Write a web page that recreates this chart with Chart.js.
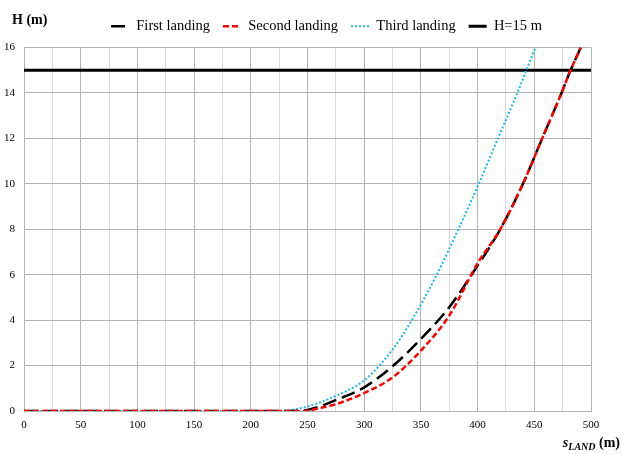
<!DOCTYPE html>
<html><head><meta charset="utf-8">
<script src="https://cdn.jsdelivr.net/npm/chart.js@4/dist/chart.umd.min.js"></script>
<style>html,body{margin:0;padding:0;background:#fff}canvas{display:block}</style>
</head><body>
<canvas id="c" width="622" height="454"></canvas>
<script>
const firstX  = [0, 240, 250, 262, 275, 300, 325, 350, 375, 400, 420, 440, 457, 474, 482, 491];
const firstH  = [0, 0, 0.05, 0.22, 0.48, 1.04, 1.97, 3.17, 4.57, 6.4, 8, 10, 12, 14, 15, 16];
const secondX = [0, 247, 260, 275, 300, 325, 350, 375, 400, 420, 440, 457, 474, 482, 491];
const secondH = [0, 0, 0.12, 0.3, 0.79, 1.48, 2.66, 4.2, 6.5, 8, 10, 12, 14, 15, 16];
const thirdX  = [0, 225, 250, 275, 300, 325, 342, 364, 383, 401, 418, 435, 451];
const thirdH  = [0, 0, 0.2, 0.67, 1.35, 2.7, 4, 6, 8, 10, 12, 14, 16];
const limitX  = [0, 500];
const limitH  = [15, 15];
const xTicks  = [0, 50, 100, 150, 200, 250, 300, 350, 400, 450, 500];
const yTicks  = [0, 2, 4, 6, 8, 10, 12, 14, 16];

const pts = (xs, ys) => xs.map((x, i) => ({x, y: ys[i]}));
const serif = "'Liberation Serif', 'Times New Roman', serif";

const legendShift = {
  id: 'legendShift',
  afterLayout(chart) {
    const lg = chart.legend;
    if (!lg) return;
    const dx = 31, dy = -4;
    lg.left += dx; lg.right += dx;
    lg.top += dy; lg.bottom += dy;
  }
};

const axisTitles = {
  id: 'axisTitles',
  afterDraw(chart) {
    const ctx = chart.ctx;
    ctx.save();
    ctx.fillStyle = '#000';
    ctx.textBaseline = 'alphabetic';
    ctx.textAlign = 'left';
    ctx.font = 'bold 14px ' + serif;
    ctx.fillText('H (m)', 12, 24);
    const right = 620;
    ctx.font = 'bold 14px ' + serif;
    const wM = ctx.measureText(' (m)').width;
    ctx.font = 'italic bold 10px ' + serif;
    const wL = ctx.measureText('LAND').width;
    ctx.font = 'italic bold 14px ' + serif;
    const wS = ctx.measureText('s').width;
    let x = right - wM - wL - wS;
    const base = 447;
    ctx.fillText('s', x, base); x += wS;
    ctx.font = 'italic bold 10px ' + serif;
    ctx.fillText('LAND', x, base + 3); x += wL;
    ctx.font = 'bold 14px ' + serif;
    ctx.fillText(' (m)', x, base);
    ctx.restore();
  }
};

new Chart(document.getElementById('c'), {
  type: 'scatter',
  data: {
    datasets: [
      {label: 'First landing', data: pts(firstX, firstH), showLine: true, borderColor: '#000', borderWidth: 2.5, borderDash: [14, 6], pointRadius: 0, cubicInterpolationMode: 'monotone', order: 1},
      {label: 'Second landing', data: pts(secondX, secondH), showLine: true, borderColor: '#ff0000', borderWidth: 2.5, borderDash: [6, 3], pointRadius: 0, cubicInterpolationMode: 'monotone', order: 0},
      {label: 'Third landing', data: pts(thirdX, thirdH), showLine: true, borderColor: '#22b5ee', borderWidth: 2, borderDash: [2, 2], pointRadius: 0, cubicInterpolationMode: 'monotone', order: 2},
      {label: 'H=15 m', data: pts(limitX, limitH), showLine: true, borderColor: '#000', borderWidth: 3, pointRadius: 0, order: 3}
    ]
  },
  options: {
    responsive: false,
    animation: false,
    devicePixelRatio: 1,
    layout: {padding: {left: 0, right: 31, top: 10, bottom: 0}},
    plugins: {
      tooltip: {enabled: false},
      legend: {
        display: true,
        position: 'top',
        labels: {
          font: {family: serif, size: 14.5},
          color: '#000',
          usePointStyle: true,
          pointStyleWidth: 18,
          padding: 13,
          generateLabels(chart) {
            return chart.data.datasets.map((d, i) => ({
              text: d.label,
              pointStyle: 'line',
              strokeStyle: d.borderColor,
              fillStyle: d.borderColor,
              lineWidth: d.borderWidth,
              lineDash: d.borderDash || [],
              datasetIndex: i,
              fontColor: '#000'
            }));
          }
        }
      }
    },
    scales: {
      x: {
        type: 'linear', min: 0, max: 500,
        afterFit(s) { s.height = 43; },
        afterBuildTicks(s) { const t = []; for (let v = 0; v <= 500; v += 25) t.push({value: v}); s.ticks = t; },
        ticks: {
          font: {family: serif, size: 11}, color: '#000', padding: 8, maxRotation: 0, autoSkip: false,
          callback: (v) => xTicks.includes(v) ? String(v) : ''
        },
        grid: {drawTicks: false, color: (c) => (c.tick && c.tick.value % 50 === 0) ? '#b4b4b4' : '#dadada', lineWidth: 1},
        border: {color: '#b4b4b4'}
      },
      y: {
        type: 'linear', min: 0, max: 16,
        afterFit(s) { s.width = 24; },
        afterBuildTicks(s) { s.ticks = yTicks.map(v => ({value: v})); },
        ticks: {font: {family: serif, size: 11}, color: '#000', padding: 9},
        grid: {drawTicks: false, color: '#b4b4b4', lineWidth: 1},
        border: {color: '#b4b4b4'}
      }
    }
  },
  plugins: [legendShift, axisTitles]
});
</script>
</body></html>
